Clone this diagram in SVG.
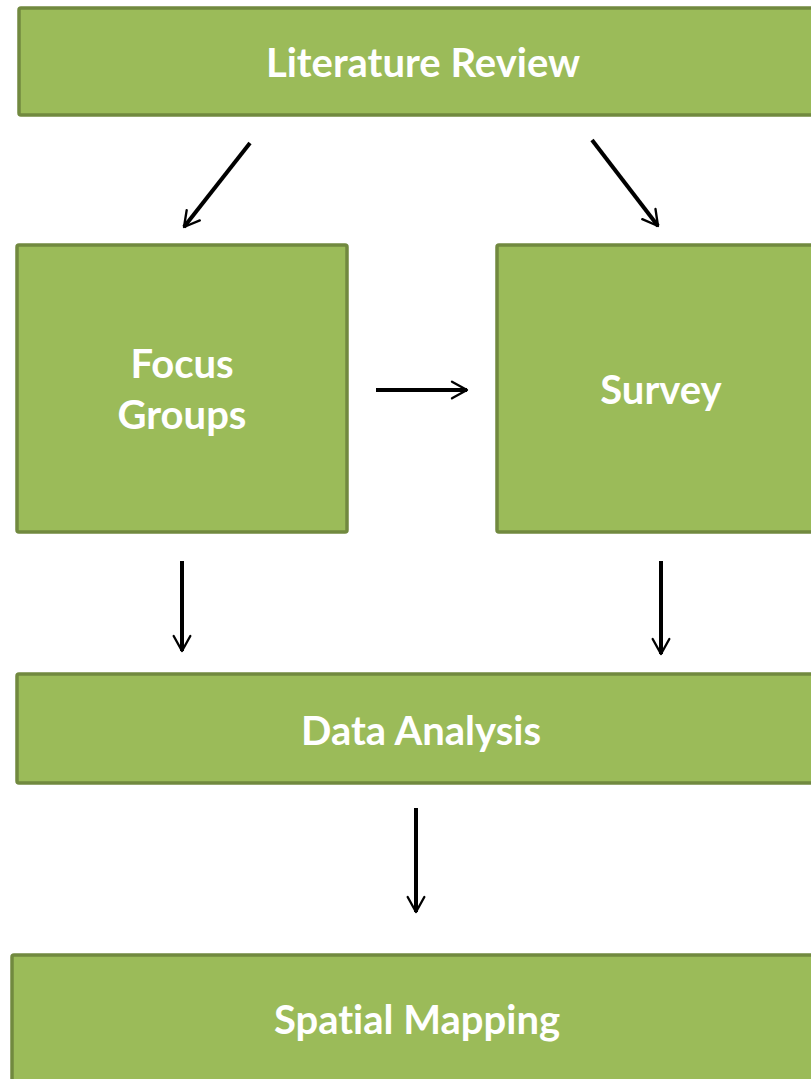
<svg xmlns="http://www.w3.org/2000/svg" width="811" height="1079" viewBox="0 0 811 1079">
<style>
.box{fill:#9bbb59;stroke:#71893f;stroke-width:3.5}
.lbl{font-family:Lato,"Open Sans",sans-serif;font-weight:bold;font-size:40px;fill:#ffffff;text-anchor:middle;font-variant-ligatures:none}
.con{stroke:#000;stroke-width:4;fill:none;marker-end:url(#ah)}
</style>
<defs>
<marker id="ah" viewBox="0 0 12 12" refX="10" refY="6" markerWidth="5" markerHeight="5" orient="auto" markerUnits="strokeWidth">
<path d="M1,1 L10,6 L1,11" fill="none" stroke="#000" stroke-width="1.4" stroke-linecap="round" stroke-linejoin="round"/>
</marker>
</defs>
<rect width="811" height="1079" fill="#fff"/>
<g id="literature-review"><rect class="box" x="19" y="8" width="800" height="107" rx="2"/><text class="lbl" x="423" y="77">Literature Review</text></g>
<g id="focus-groups"><rect class="box" x="17" y="245" width="330" height="287" rx="2"/><text class="lbl" x="182" y="378">Focus</text><text class="lbl" x="182" y="429">Groups</text></g>
<g id="survey"><rect class="box" x="497" y="245" width="330" height="287" rx="2"/><text class="lbl" x="661" y="404">Survey</text></g>
<g id="data-analysis"><rect class="box" x="17" y="674" width="810" height="109" rx="2"/><text class="lbl" x="421" y="745">Data Analysis</text></g>
<g id="spatial-mapping"><rect class="box" x="12" y="955" width="815" height="140" rx="2"/><text class="lbl" x="417" y="1034">Spatial Mapping</text></g>
<g id="connectors">
<line class="con" x1="250" y1="143" x2="184" y2="227"/>
<line class="con" x1="592" y1="140" x2="658" y2="226"/>
<line class="con" x1="376" y1="390" x2="467" y2="390"/>
<line class="con" x1="182" y1="561" x2="182" y2="651"/>
<line class="con" x1="661" y1="561" x2="661" y2="654"/>
<line class="con" x1="416" y1="808" x2="416" y2="912"/>
</g>
</svg>
